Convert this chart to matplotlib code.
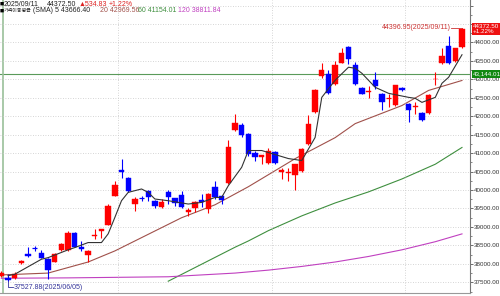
import matplotlib
matplotlib.use("Agg")
import matplotlib.pyplot as plt
from matplotlib.ticker import MultipleLocator

plt.rcParams['font.family'] = ['Liberation Sans Narrow', 'Liberation Sans', 'Noto Sans CJK KR', 'DejaVu Sans']

# candle data, 2025/06/04 .. 2025/09/11 (trading days)
opens = [37670, 37624, 37624, 38016, 38261, 38430, 38305, 38125, 38060, 38370,
         38370, 38832, 38460, 38242, 38760, 38895, 39058, 39847, 40546, 40328,
         39621, 39780, 39983, 39711, 39528, 39937, 39774, 39874, 39392, 39512,
         39730, 39485, 40072, 39847, 40181, 41634, 41751, 41525, 41000, 40900,
         40744, 41025, 40500, 40450, 40420, 40527, 41253, 42112, 43083, 43157,
         42866, 43445, 43864, 43402, 42776, 42670, 42975, 42594, 42495, 42295,
         42765, 42341, 42250, 42085, 42085, 43000, 43445, 43899, 43500, 43880]
highs = [37807, 37725, 37766, 38106, 38460, 38487, 38378, 38160, 38300, 38560,
         38895, 38860, 38623, 38370, 38949, 38945, 39629, 40255, 40845, 40350,
         39806, 39847, 40000, 39738, 39757, 40002, 39790, 39964, 39512, 39690,
         39893, 39910, 40255, 39860, 41343, 42069, 41830, 41540, 41050, 40950,
         41144, 41060, 40600, 40600, 40700, 41150, 42023, 42730, 43456, 43247,
         43500, 43859, 43899, 43472, 42800, 42811, 43193, 42620, 42594, 42860,
         42790, 42360, 42385, 42110, 42610, 43201, 43837, 44171, 43860, 44396.95]
lows = [37643, 37527.88, 37603, 37997, 38174, 38350, 38147, 37589, 38040, 38350,
        38340, 38450, 38351, 38060, 38677, 38712, 39040, 39830, 40328, 39937,
        39439, 39711, 39711, 39512, 39510, 39629, 39575, 39512, 39303, 39392,
        39547, 39365, 39757, 39629, 40160, 41610, 41424, 40935, 40800, 40700,
        40700, 40700, 40300, 40250, 40000, 40500, 41230, 42090, 43029, 42610,
        42850, 43430, 43429, 42860, 42590, 42485, 42749, 42159, 42248, 42270,
        42680, 41840, 42069, 41860, 42060, 42839, 43410, 43420, 43480, 43860]
closes = [37752, 37570, 37733, 38079, 38206, 38416, 38168, 37826, 38277, 38533,
          38848, 38468, 38397, 38351, 38780, 38935, 39575, 40146, 40481, 39983,
          39757, 39774, 39800, 39575, 39683, 39819, 39648, 39547, 39458, 39664,
          39664, 39893, 39800, 39738, 41160, 41824, 41479, 40981, 40900, 40950,
          41071, 40744, 40550, 40500, 40700, 41117, 41797, 42703, 43266, 42629,
          43383, 43717, 43538, 42885, 42613, 42685, 42811, 42385, 42508, 42839,
          42703, 42178, 42267, 41906, 42586, 43020, 43627, 43445, 43837.67, 44372.50]

# moving averages (candle index, value)
ma5_idx = [1, 2, 6, 7, 10, 11, 13, 15, 16, 17, 18, 19, 21, 22, 23, 25, 28, 30, 32, 33,
           34, 36, 37, 39, 43, 45, 47, 48, 50, 52, 53, 54, 56, 58, 61, 62, 63, 65, 66, 67, 69]
ma5_val = [37680, 37717, 38125, 38168, 38380, 38441, 38577, 38577, 38813, 39256, 39711,
           39937, 40029, 39937, 39757, 39711, 39621, 39665, 39800, 39800, 40118, 40616,
           41071, 41071, 40853, 40799, 41425, 42512, 42975, 43328, 43301, 43165, 42784,
           42621, 42512, 42485, 42376, 42512, 42893, 43056, 43666.40]
ma20_idx = [0, 7, 13, 17, 22, 27, 32, 37, 44, 50, 53, 60, 64, 69]
ma20_val = [37700, 37750, 38050, 38350, 38800, 39250, 39600, 40090, 40850, 41420,
            41800, 42290, 42700, 42969.56]
ma60_idx = [25, 30, 35, 37, 40, 45, 50, 55, 60, 65, 69]
ma60_val = [37530, 37990, 38450, 38620, 38900, 39300, 39650, 39950, 40300, 40700, 41154.01]
ma120_idx = [0, 10, 20, 25, 30, 35, 40, 45, 50, 55, 60, 65, 69]
ma120_val = [37610, 37620, 37640, 37650, 37700, 37750, 37830, 37930, 38050, 38200,
             38380, 38600, 38811.84]

month_starts = [18, 41, 61]   # 07/01, 08/01, 09/01

up_c = '#ff0000'
dn_c = '#0000ff'
fs = 5.0
afs = 4.5   # right axis labels

fig = plt.figure(figsize=(5, 2.96), dpi=100)
ax = fig.add_axes([0.0, 0.01, 0.94, 0.99])

for i in range(len(opens)):
    o, h, l, c = opens[i], highs[i], lows[i], closes[i]
    col = up_c if c >= o else dn_c
    ax.vlines(i, l, h, color=col, lw=0.8, zorder=3)
    lo, hi = min(o, c), max(o, c)
    if hi - lo < 15:
        ax.hlines(o, i - 0.4, i + 0.4, color=col, lw=0.9, zorder=4)
    else:
        ax.bar(i, hi - lo, bottom=lo, width=0.8, color=col, edgecolor=col, lw=0.3, zorder=4)

ax.plot(ma5_idx, ma5_val, color='#333333', lw=0.8, zorder=5)
ax.plot(ma20_idx, ma20_val, color='#a0504a', lw=0.8, zorder=2)
ax.plot(ma60_idx, ma60_val, color='#3f8f3f', lw=0.8, zorder=2)
ax.plot(ma120_idx, ma120_val, color='#c040c0', lw=0.8, zorder=2)

ax.set_xlim(-0.2, 70.2)
ax.set_ylim(37209, 45150)

ax.yaxis.set_major_locator(MultipleLocator(500))
ax.yaxis.set_minor_locator(MultipleLocator(250))
ax.yaxis.tick_right()
ax.yaxis.set_major_formatter(lambda v, pos: f'{v:.2f}' if v <= 44000 else '')
ax.tick_params(axis='y', which='major', length=2.2, width=0.6, labelsize=afs, pad=0.3,
               color='#555555', labelcolor='#333333')
ax.tick_params(axis='y', which='minor', length=1.2, width=0.5, color='#555555')
ax.set_xticks([])
ax.grid(axis='y', color='#c8c8c8', ls=(0, (1, 2)), lw=0.6)
for m in month_starts:
    ax.axvline(m - 0.5, color='#c8c8c8', ls=(0, (1, 2)), lw=0.6)

for s in ['top', 'left']:
    ax.spines[s].set_visible(False)
ax.spines['right'].set_color('#777777')
ax.spines['right'].set_linewidth(0.8)
ax.spines['bottom'].set_color('#999999')

# crosshair
ax.axhline(43144.01, color='#5a9a5a', lw=0.8, zorder=1)
ax.axvline(0.2, color='#9ac09a', lw=1.2, zorder=1)

# value boxes on the axis
ax.text(1.006, 44372.5, '44372.50\n+1.22%', transform=ax.get_yaxis_transform(),
        fontsize=afs, color='white', ha='left', va='center', linespacing=0.95,
        bbox=dict(boxstyle='square,pad=0.2', fc='#ee1111', ec='none'), clip_on=False)
ax.text(1.006, 43144.01, '43,144.01', transform=ax.get_yaxis_transform(),
        fontsize=afs, color='white', ha='left', va='center',
        bbox=dict(boxstyle='square,pad=0.2', fc='#118811', ec='none'), clip_on=False)

# high / low annotations
ax.plot([67.4, 69], [highs[-1], highs[-1]], color='#cc3333', lw=0.6)
ax.text(67.3, highs[-1], '44396.95(2025/09/11)', color='#cc3333', fontsize=fs,
        ha='right', va='center')
ax.plot([1, 1, 1.8], [lows[1], 37360, 37360], color='#333399', lw=0.6)
ax.text(1.9, 37360, '37527.88(2025/06/05)', color='#333399', fontsize=fs,
        ha='left', va='center')

# legend lines (pixel positions)
def ftxt(x, y, s, color, size=fs):
    fig.text(x / 500, 1 - y / 296, s, fontsize=size, color=color, va='center', ha='left')

ftxt(0, 4, '■', '#000000')
ftxt(4, 4, '2025/09/11', '#222222')
ftxt(47, 4, '44372.50', '#222222')
ftxt(79, 4, '▲534.83', '#dd2222')
ftxt(109, 4, '+1.22%', '#dd2222')
ftxt(0, 11, '■', '#000000')
ftxt(4, 11, '가격이동평균', '#222222', 3.6)
ftxt(33, 11, '(SMA) 5 43666.40', '#222222')
ftxt(100, 11, '20 42969.56', '#a0504a')
ftxt(138, 11, '60 41154.01', '#3f8f3f')
ftxt(178, 11, '120 38811.84', '#c040c0')

fig.savefig('out.png', dpi=100)
